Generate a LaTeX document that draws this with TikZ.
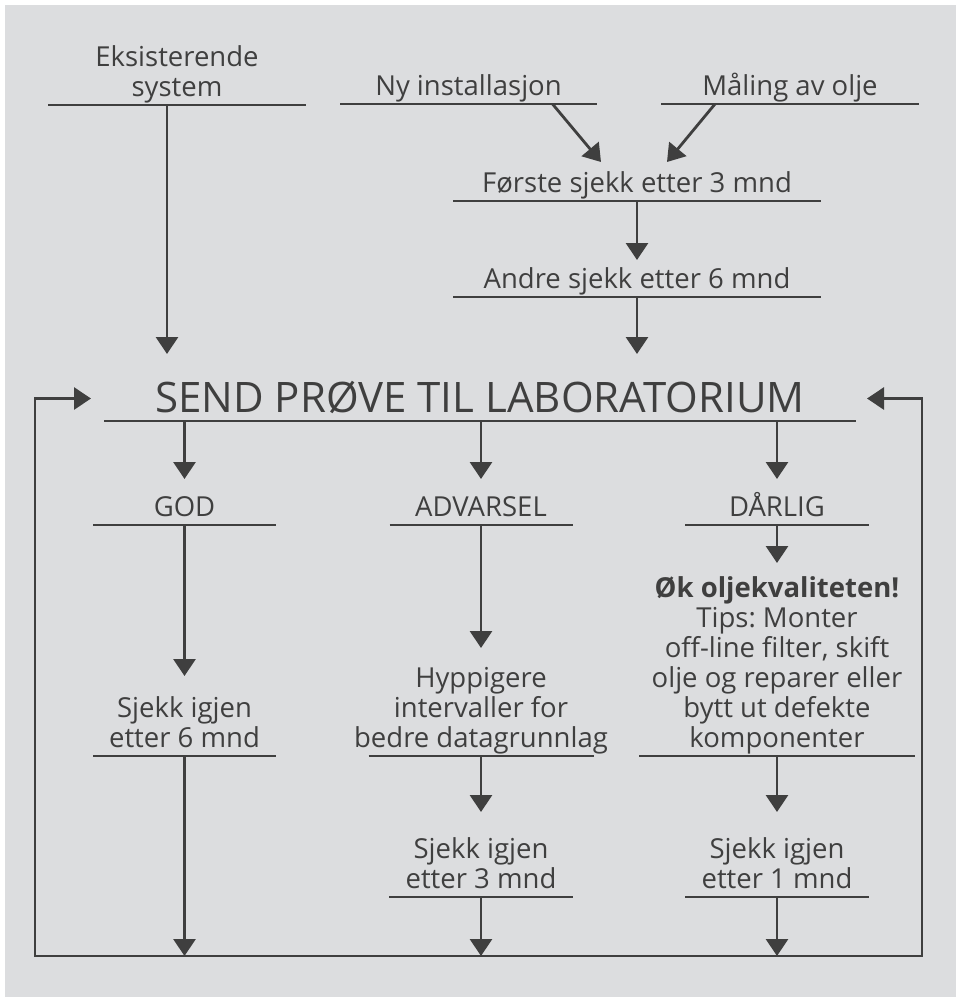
\documentclass[tikz,border=0pt]{standalone}
\usepackage{fontspec}
\setmainfont{Open Sans}
\usetikzlibrary{arrows.meta}
\definecolor{ink}{HTML}{3F3F3F}
\definecolor{paper}{HTML}{DCDDDF}
\newcommand\fs[2]{\fontsize{#1}{#2}\selectfont}
\newcommand\upst{\rule{0pt}{26pt}}
\newcommand\dnst{\rule[-9pt]{0pt}{0pt}}
\frenchspacing

\begin{document}
\begin{tikzpicture}[x=1pt,y=-1pt,>={Triangle[length=17pt,width=22pt]},
    lbl/.style={font=\fs{27.5}{30}, text=ink, align=center, inner sep=0pt, outer sep=0pt, anchor=south},
    bar/.style={draw=ink, line width=2.8pt},
    arr/.style={draw=ink, line width=2.8pt, ->},
    back/.style={draw=ink, line width=2.8pt, <->}]
    \useasboundingbox (0,0) rectangle (959,997);
    \fill[paper] (5,5) rectangle (956,997);

    \node[lbl] (eks) at (177,105) {\upst Eksisterende\\system\dnst};
    \node[lbl] (ny) at (468.5,104) {\upst Ny installasjon\dnst};
    \node[lbl] (mal) at (790,104) {\upst Måling av olje\dnst};
    \node[lbl] (forste) at (637,201) {\upst Første sjekk etter 3 mnd\dnst};
    \node[lbl] (andre) at (637,297) {\upst Andre sjekk etter 6 mnd\dnst};
    \node[lbl, font=\fs{42}{45}, minimum width=752pt] (send) at (480,421)
        {\rule{0pt}{36pt}SEND PRØVE TIL LABORATORIUM\dnst};
    \node[lbl] (god) at (184.5,525) {\upst GOD\dnst};
    \node[lbl] (adv) at (481,525) {\upst ADVARSEL\dnst};
    \node[lbl] (dar) at (777,525) {\upst DÅRLIG\dnst};
    \node[lbl] (god2) at (184.5,756) {\upst Sjekk igjen\\etter 6 mnd\dnst};
    \node[lbl] (adv2) at (481,756) {\upst Hyppigere\\intervaller for\\bedre datagrunnlag\dnst};
    \node[lbl] (dar2) at (777,756) {\upst\textbf{Øk oljekvaliteten!}\\Tips: Monter\\off-line filter, skift\\olje og reparer eller\\bytt ut defekte\\komponenter\dnst};
    \node[lbl] (adv3) at (481,897) {\upst Sjekk igjen\\etter 3 mnd\dnst};
    \node[lbl] (dar3) at (777,897) {\upst Sjekk igjen\\etter 1 mnd\dnst};
    \coordinate (bl) at (35,956);
    \coordinate (br) at (922,956);

    \foreach \n/\w in {eks/258, ny/257, mal/258, forste/368, andre/368, send/752,
        god/183, adv/183, dar/184, god2/183, adv2/225, dar2/276, adv3/184, dar3/184}
        \draw[bar] ([xshift=-\w/2]\n.south) -- ([xshift=\w/2]\n.south);

    \draw[arr, shorten >=22pt] ([xshift=-10pt]eks.south) -- ([xshift=-10pt]eks.south |- send.north);
    \draw[arr] ([xshift=84pt]ny.south) -- ([xshift=-36pt,yshift=4pt]forste.north);
    \draw[arr] ([xshift=-75pt]mal.south) -- ([xshift=30pt,yshift=4pt]forste.north);
    \draw[arr, shorten >=2pt] (forste) -- (andre);
    \draw[arr, shorten >=22pt] (andre) -- (andre |- send.north);
    \draw[arr, shorten >=11pt] (send.south -| god) -- (god);
    \draw[arr, shorten >=11pt] (send.south -| adv) -- (adv);
    \draw[arr, shorten >=11pt] (send.south -| dar) -- (dar);
    \draw[arr, shorten >=15pt] (god) -- (god2);
    \draw[arr, shorten >=13pt] (adv) -- (adv2);
    \draw[arr, shorten >=8pt] (dar) -- (dar2);
    \draw[arr, shorten >=20pt] (adv2) -- (adv3);
    \draw[arr, shorten >=20pt] (dar2) -- (dar3);
    \draw[arr] (god2) -- (god2 |- bl);
    \draw[arr] (adv3) -- (adv3 |- bl);
    \draw[arr] (dar3) -- (dar3 |- bl);
    \draw[back, shorten <=11pt, shorten >=13pt] (send.east) -| (br) -- (bl) |- (send.west);
\end{tikzpicture}
\end{document}
